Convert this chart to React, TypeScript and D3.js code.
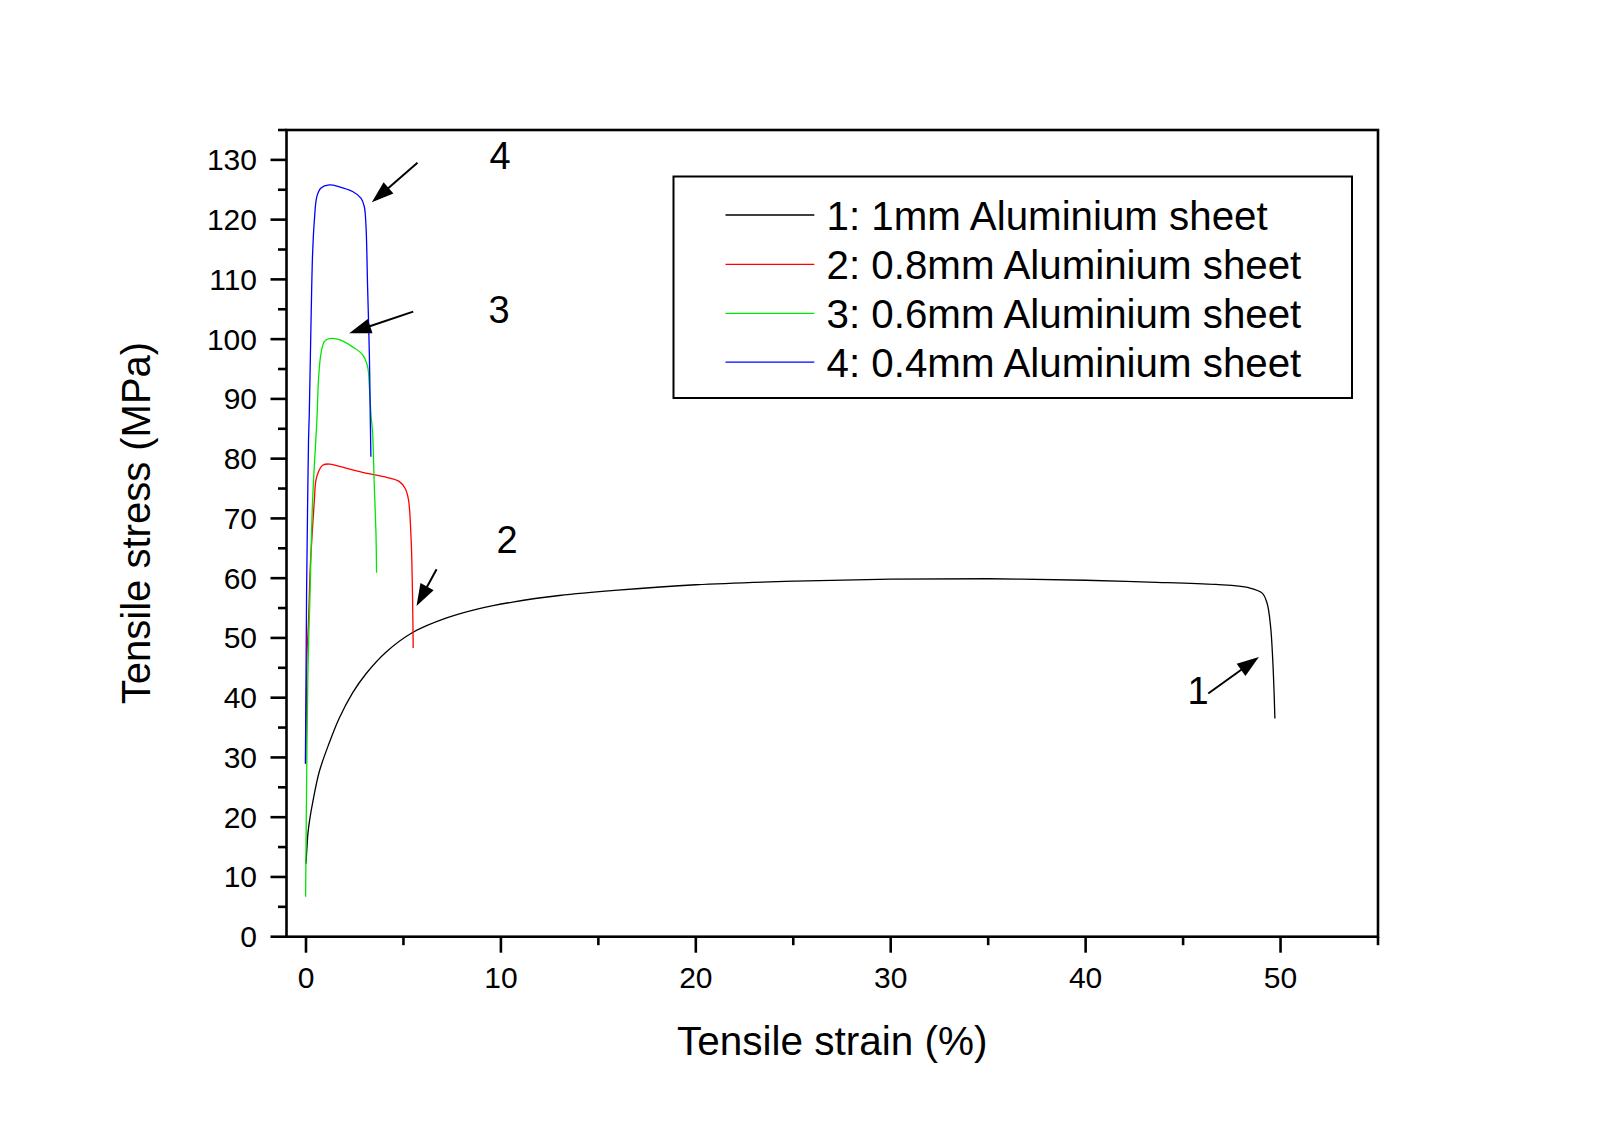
import React from "react";
import * as d3 from "d3";

type Pt = [number, number];

const seriesNames = [
  "1: 1mm Aluminium sheet",
  "2: 0.8mm Aluminium sheet",
  "3: 0.6mm Aluminium sheet",
  "4: 0.4mm Aluminium sheet",
];
const seriesColors = ["#000000", "#ff0000", "#00e600", "#0000ff"];

const curve1mm: Pt[] = [
  [0, 12.2], [0.05, 15], [0.1, 17.3], [0.2, 19.8], [0.34, 22.4], [0.68, 27.6],
  [1.19, 32.4], [1.71, 36.6], [2.39, 40.8], [3.08, 44.0], [4.1, 47.6],
  [5.47, 50.9], [7.18, 53.3], [8.89, 54.9], [10.6, 56.0], [13, 57.1],
  [16, 58.0], [20, 58.9], [25, 59.5], [30, 59.85], [35, 59.9], [40, 59.65],
  [43.25, 59.35], [46.67, 58.95], [48.37, 58.4], [49.06, 57.5], [49.31, 55.8],
  [49.49, 51.9], [49.6, 46.3], [49.67, 40.7], [49.71, 36.5],
];
const curve08mm: Pt[] = [
  [-0.02, 28.9], [0.02, 40], [0.06, 48], [0.13, 53], [0.22, 61.9], [0.34, 68.6],
  [0.43, 73.1], [0.51, 76.4], [0.68, 78.1], [0.85, 78.9], [1.19, 79.1],
  [1.71, 78.7], [2.9, 77.7], [4.1, 76.9], [4.78, 76.2], [5.09, 75.0],
  [5.26, 73.1], [5.38, 67.5], [5.43, 63.0], [5.47, 56.4], [5.5, 48.3],
];
const curve06mm: Pt[] = [
  [-0.02, 6.7], [0.03, 25.1], [0.1, 44.6], [0.2, 56.4], [0.34, 73.1],
  [0.56, 86.5], [0.65, 93.7], [0.77, 97.6], [0.94, 99.6], [1.19, 100.1],
  [1.71, 99.9], [2.39, 98.7], [2.9, 97.4], [3.16, 95.4], [3.25, 92.1],
  [3.33, 87.6], [3.42, 84.2], [3.5, 75.9], [3.59, 67.5], [3.62, 60.9],
];
const curve04mm: Pt[] = [
  [-0.03, 29], [0, 42], [0.03, 57.5], [0.08, 71.4], [0.13, 83.1], [0.17, 87.6],
  [0.26, 103.2], [0.34, 114.4], [0.43, 119.9], [0.56, 123.9], [0.77, 125.3],
  [1.19, 125.8], [1.71, 125.5], [2.39, 124.7], [2.82, 123.6], [2.99, 122.2],
  [3.08, 118.8], [3.16, 108.8], [3.25, 97.6], [3.3, 86.5], [3.33, 80.3],
];
const allSeries = [curve1mm, curve08mm, curve06mm, curve04mm];

const xMajorTicks = [0, 10, 20, 30, 40, 50];
const xMinorTicks = [5, 15, 25, 35, 45, 55];
const yMajorTicks = [0, 10, 20, 30, 40, 50, 60, 70, 80, 90, 100, 110, 120, 130];
const yMinorTicks = [5, 15, 25, 35, 45, 55, 65, 75, 85, 95, 105, 115, 125, 135];

// annotation labels and arrows (data units)
const annoLabels = [
  { text: "4", x: 9.96, y: 130.8 },
  { text: "3", x: 9.91, y: 105.0 },
  { text: "2", x: 10.32, y: 66.5 },
  { text: "1", x: 45.77, y: 41.3 },
];
const annoArrows = [
  { x1: 5.72, y1: 129.5, x2: 3.38, y2: 122.9 },
  { x1: 5.5, y1: 104.6, x2: 2.22, y2: 101.0 },
  { x1: 6.7, y1: 61.5, x2: 5.67, y2: 55.35 },
  { x1: 46.29, y1: 40.7, x2: 48.89, y2: 46.8 },
];

const FONT = "'Liberation Sans', Arial, Helvetica, sans-serif";

export default function App() {
  const W = 1600, H = 1123;
  const L = 286.5, R = 1378, T = 130, B = 936.7;
  const x = d3.scaleLinear().domain([-1, 55]).range([L, R]);
  const y = d3.scaleLinear().domain([0, 135]).range([B, T]);
  const line = d3
    .line<Pt>()
    .x((d) => x(d[0]))
    .y((d) => y(d[1]))
    .curve(d3.curveCatmullRom.alpha(0.5));

  const majorLen = 16, minorLen = 8.5;
  const axisW = 2.6;

  const legend = { x0: 673.5, y0: 176.5, x1: 1352, y1: 398 };
  const legRowY = [215, 264.3, 313.3, 362.2];

  const arrowHead = (a: { x1: number; y1: number; x2: number; y2: number }) => {
    const X1 = x(a.x1), Y1 = y(a.y1), X2 = x(a.x2), Y2 = y(a.y2);
    const ang = Math.atan2(Y2 - Y1, X2 - X1);
    const len = 22, hw = 7.5;
    const bx = X2 - len * Math.cos(ang), by = Y2 - len * Math.sin(ang);
    const px = -Math.sin(ang), py = Math.cos(ang);
    return {
      line: { X1, Y1, X2: bx + 2 * Math.cos(ang), Y2: by + 2 * Math.sin(ang) },
      poly: `${X2},${Y2} ${bx + hw * px},${by + hw * py} ${bx - hw * px},${by - hw * py}`,
    };
  };

  return (
    <svg
      width={W}
      height={H}
      style={{ position: "absolute", left: 0, top: 0, background: "#fff" }}
      fontFamily={FONT}
    >
      <rect x={0} y={0} width={W} height={H} fill="#fff" />
      {/* data curves */}
      <g fill="none" strokeWidth={1.3} strokeLinejoin="round">
        {allSeries.map((s, i) => (
          <path key={i} d={line(s) || ""} stroke={seriesColors[i]} />
        ))}
      </g>

      {/* frame */}
      <rect x={L} y={T} width={R - L} height={B - T} fill="none" stroke="#000" strokeWidth={axisW} />

      {/* ticks */}
      <g stroke="#000" strokeWidth={axisW}>
        {xMajorTicks.map((t) => (
          <line key={"xM" + t} x1={x(t)} x2={x(t)} y1={B} y2={B + majorLen} />
        ))}
        {xMinorTicks.map((t) => (
          <line key={"xm" + t} x1={x(t)} x2={x(t)} y1={B} y2={B + minorLen} />
        ))}
        {yMajorTicks.map((t) => (
          <line key={"yM" + t} x1={L} x2={L - majorLen} y1={y(t)} y2={y(t)} />
        ))}
        {yMinorTicks.map((t) => (
          <line key={"ym" + t} x1={L} x2={L - minorLen} y1={y(t)} y2={y(t)} />
        ))}
      </g>
      <g fontSize={30} fill="#000">
        {xMajorTicks.map((t) => (
          <text key={"xl" + t} x={x(t)} y={988} textAnchor="middle">
            {t}
          </text>
        ))}
        {yMajorTicks.map((t) => (
          <text key={"yl" + t} x={257} y={y(t) + 10.5} textAnchor="end">
            {t}
          </text>
        ))}
      </g>

      {/* axis titles */}
      <text x={(L + R) / 2} y={1055} textAnchor="middle" fontSize={40.5} fill="#000">
        Tensile strain (%)
      </text>
      <text
        transform={`translate(150, ${523}) rotate(-90)`}
        textAnchor="middle"
        fontSize={40}
        fill="#000"
      >
        Tensile stress (MPa)
      </text>

      {/* legend */}
      <rect
        x={legend.x0}
        y={legend.y0}
        width={legend.x1 - legend.x0}
        height={legend.y1 - legend.y0}
        fill="#fff"
        stroke="#000"
        strokeWidth={2}
      />
      {seriesNames.map((n, i) => (
        <g key={n}>
          <line x1={725.5} x2={814.3} y1={legRowY[i]} y2={legRowY[i]} stroke={seriesColors[i]} strokeWidth={1.3} />
          <text x={826.5} y={legRowY[i] + 14.5} fontSize={40.3} fill="#000">
            {n}
          </text>
        </g>
      ))}

      {/* annotations */}
      {annoLabels.map((a) => (
        <text key={a.text} x={x(a.x)} y={y(a.y) + 14} textAnchor="middle" fontSize={38} fill="#000">
          {a.text}
        </text>
      ))}
      {annoArrows.map((a, i) => {
        const h = arrowHead(a);
        return (
          <g key={i}>
            <line x1={h.line.X1} y1={h.line.Y1} x2={h.line.X2} y2={h.line.Y2} stroke="#000" strokeWidth={2} />
            <polygon points={h.poly} fill="#000" />
          </g>
        );
      })}
    </svg>
  );
}
